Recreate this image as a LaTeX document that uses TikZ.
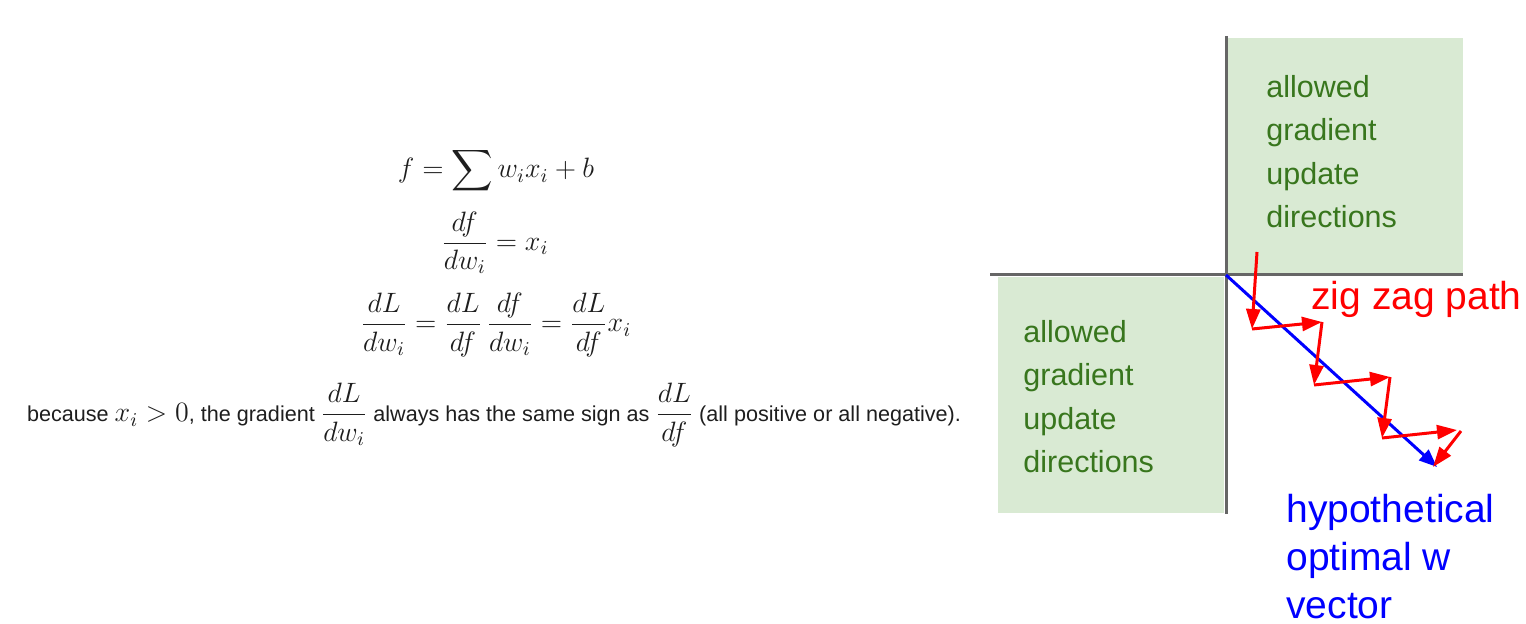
\documentclass[tikz,border=0pt]{standalone}
\usepackage{fix-cm}
\usepackage{amsmath}
\usepackage[no-math]{fontspec}
\newfontfamily\slidefont{Liberation Sans}
\usetikzlibrary{arrows.meta}
\definecolor{LGreen}{HTML}{D9EAD3}
\definecolor{DGreen}{HTML}{38761D}
\definecolor{axisgray}{HTML}{666666}
\definecolor{inkgray}{HTML}{1E1E1E}
\definecolor{zigred}{HTML}{FF0000}
\definecolor{optblue}{HTML}{0000FF}
\newcommand{\plaintext}[1]{{\slidefont\fontsize{10.8}{12}\selectfont #1}}
\tikzset{
    region/.style={fill=LGreen, draw=none},
    regiontext/.style={font=\slidefont\fontsize{15.25}{21.65}\selectfont, text=DGreen,
        align=left, inner sep=0pt, anchor=north west},
    axisline/.style={axisgray, line width=1.5pt},
    zig/.style={zigred, line width=1.5pt, -{Triangle[length=10pt,width=7pt]}},
    optimal/.style={optblue, line width=1.5pt, -{Triangle[length=9pt,width=7pt]}},
    eqn/.style={font=\fontsize{14}{16}\selectfont, text=inkgray, inner sep=0pt}
}
\begin{document}
\begin{tikzpicture}[x=0.5pt, y=-0.5pt]
\useasboundingbox (0,0) rectangle (1526,624);

% equations on the left
\node[eqn] (eq-sum)   at (496,171) {$\displaystyle f=\sum w_ix_i+b$};
\node[eqn] (eq-local) at (495,243) {$\displaystyle \frac{df}{dw_i}=x_i$};
\node[eqn] (eq-chain) at (496,325) {$\displaystyle \frac{dL}{dw_i}=\frac{dL}{df}\,\frac{df}{dw_i}=\frac{dL}{df}x_i$};
\node[eqn] (note) at (494,415) {\plaintext{because }$x_i>0$\plaintext{, the gradient }$\dfrac{dL}{dw_i}$\plaintext{ always has the same sign as }$\dfrac{dL}{df}$\plaintext{ (all positive or all negative).}};

% quadrants
\fill[region] (1228,38) rectangle (1463,273);
\fill[region] (998,277) rectangle (1224,513);
\coordinate (origin) at (1226,275);
\coordinate (axis-top) at (1226,36);
\coordinate (axis-bottom) at (1226,514);
\coordinate (axis-left) at (990,275);
\coordinate (axis-right) at (1463,275);
\draw[axisline] (axis-top) -- (axis-bottom);
\draw[axisline] (axis-left) -- (axis-right);

\node[regiontext] (upper-text) at (1266,75) {allowed\\gradient\\update\\directions};
\node[regiontext] (lower-text) at (1023,320) {allowed\\gradient\\update\\directions};

% optimal direction and zig zag steps
\coordinate (w-opt) at (1437,467);
\draw[optimal] (origin) -- (w-opt);

\coordinate (z0) at (1257,252);
\coordinate (z1) at (1252,329);
\coordinate (z2) at (1322,322);
\coordinate (z3) at (1314,385);
\coordinate (z4) at (1390,377);
\coordinate (z5) at (1382,438);
\coordinate (z6) at (1457,430);
\coordinate (z7) at (1461,431);
\coordinate (z8) at (1433,467);
\draw[zig] (z0) -- (z1);
\draw[zig] (z1) -- (z2);
\draw[zig] (z2) -- (z3);
\draw[zig] (z3) -- (z4);
\draw[zig] (z4) -- (z5);
\draw[zig] (z5) -- (z6);
\draw[zig] (z7) -- (z8);

\node[font=\slidefont\fontsize{19.5}{24}\selectfont, text=zigred, inner sep=0pt, anchor=base west]
    (zig-label) at (1311,310) {zig zag path};
\node[font=\slidefont\fontsize{19.5}{24}\selectfont, text=optblue, inner sep=0pt, anchor=north west, align=left]
    (opt-label) at (1286,494) {hypothetical\\optimal w\\vector};
\end{tikzpicture}
\end{document}
